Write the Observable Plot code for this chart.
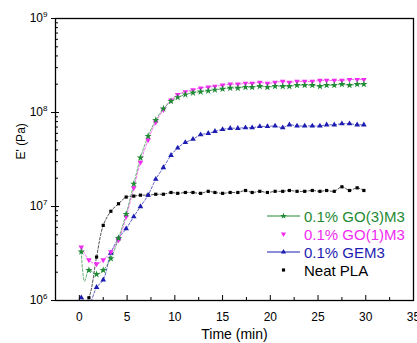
<!DOCTYPE html>
<html><head><meta charset="utf-8">
<script src="https://cdn.jsdelivr.net/npm/d3@7"></script>
<script src="https://cdn.jsdelivr.net/npm/@observablehq/plot@0.6"></script>
<style>
body{margin:0;background:#fff;}
#wrap{position:relative;width:417px;height:343px;font-family:"Liberation Sans",Arial,sans-serif;overflow:hidden;}
#legend{position:absolute;left:0;top:0;pointer-events:none;}
</style></head>
<body><div id="wrap"><div id="chart"></div><svg id="legend" width="417" height="343"></svg></div>
<script>
// time (min)
const times = [0.2,1.0,1.8,2.5,3.3,4.1,4.9,5.7,6.4,7.2,8.0,8.8,9.6,10.3,11.1,11.9,12.7,13.5,14.2,15.0,15.8,16.6,17.4,18.1,18.9,19.7,20.5,21.3,22.0,22.8,23.6,24.4,25.2,25.9,26.7,27.5,28.3,29.1,29.8];
// E' (Pa)
const go3m3 = [3.3e6,2.1e6,1.9e6,2.1e6,2.8e6,4.6e6,8.3e6,1.74e7,3.3e7,5.6e7,8.3e7,1.1e8,1.32e8,1.45e8,1.55e8,1.62e8,1.66e8,1.7e8,1.74e8,1.78e8,1.82e8,1.82e8,1.86e8,1.86e8,1.9e8,1.86e8,1.9e8,1.9e8,1.9e8,1.95e8,1.95e8,1.95e8,1.9e8,1.95e8,1.95e8,2.0e8,1.95e8,2.0e8,2.0e8];
const go3DipTime = [0.55];
const go3DipValue = [1.6e6];
const go1m3 = [3.7e6,2.7e6,2.45e6,2.7e6,3.3e6,4.4e6,7.8e6,1.58e7,2.95e7,5.1e7,7.9e7,1.07e8,1.35e8,1.55e8,1.66e8,1.74e8,1.82e8,1.86e8,1.9e8,1.95e8,2.0e8,2.0e8,2.04e8,2.04e8,2.09e8,2.04e8,2.09e8,2.14e8,2.09e8,2.14e8,2.14e8,2.14e8,2.19e8,2.19e8,2.19e8,2.19e8,2.24e8,2.24e8,2.24e8];
const gem3 = [1.07e6,9.3e5,1.38e6,1.66e6,3.2e6,4.6e6,5.8e6,7.8e6,1.0e7,1.32e7,1.95e7,2.6e7,3.5e7,4.2e7,4.8e7,5.2e7,5.8e7,6.0e7,6.3e7,6.6e7,6.8e7,6.8e7,6.9e7,6.9e7,7.1e7,7.1e7,7.2e7,6.9e7,7.4e7,7.2e7,7.2e7,7.2e7,7.2e7,7.4e7,7.4e7,7.6e7,7.6e7,7.4e7,7.4e7];
const neatPLA = [8e5,1.07e6,2.9e6,6.3e6,8.9e6,1.07e7,1.26e7,1.29e7,1.32e7,1.32e7,1.35e7,1.35e7,1.41e7,1.38e7,1.41e7,1.41e7,1.38e7,1.45e7,1.41e7,1.38e7,1.41e7,1.41e7,1.48e7,1.41e7,1.45e7,1.41e7,1.45e7,1.45e7,1.48e7,1.45e7,1.45e7,1.48e7,1.45e7,1.48e7,1.45e7,1.62e7,1.48e7,1.58e7,1.48e7];

const seriesNames = ["0.1% GO(3)M3","0.1% GO(1)M3","0.1% GEM3","Neat PLA"];
const seriesColors = ["#1e8a34","#f02cf0","#1c1cb0","#000000"];
const xTicks = [0,5,10,15,20,25,30,35];
const xMinor = [2.5,7.5,12.5,17.5,22.5,27.5,32.5];
const yTicks = [1e6,1e7,1e8,1e9];

const yMinor = [];
for (const d of [1e6,1e7,1e8]) for (let k=2;k<=9;k++) yMinor.push(d*k);

const mk = (vals) => times.map((t,i)=>({t, v: vals[i]}));
const seriesData = [
  {name: seriesNames[3], color: seriesColors[3], data: mk(neatPLA), line: mk(neatPLA), symbol: "square", rotate: 0, r: 1.8},
  {name: seriesNames[2], color: seriesColors[2], data: mk(gem3), line: mk(gem3), symbol: "triangle", rotate: 0, r: 2.1},
  {name: seriesNames[1], color: seriesColors[1], data: mk(go1m3), line: mk(go1m3), symbol: "triangle", rotate: 180, r: 2.1},
  {name: seriesNames[0], color: seriesColors[0], data: mk(go3m3),
    line: mk(go3m3).concat(go3DipTime.map((t,i)=>({t, v: go3DipValue[i]}))).sort((a,b)=>a.t-b.t),
    symbol: "star", rotate: 0, r: 2.3}
];

const W = 417, H = 343, mL = 55, mR = 4, mT = 18, mB = 43;
const fw = W - mL - mR, fh = H - mT - mB;

const marks = [];
for (const s of seriesData) {
  marks.push(Plot.line(s.line, {x: "t", y: "v", stroke: s.color, strokeWidth: 0.7, strokeDasharray: "2.5,1.8", curve: "catmull-rom", clip: true}));
}
for (const s of seriesData) {
  marks.push(Plot.dot(s.data, {x: "t", y: "v", symbol: s.symbol, r: s.r, fill: s.color, stroke: "none", rotate: s.rotate, clip: true}));
}
marks.push(
  Plot.frame({stroke: "#000", strokeWidth: 1.3}),
  Plot.tickX(xTicks, {x: d => d, insetTop: fh - 5, stroke: "#000", strokeWidth: 1}),
  Plot.tickX(xMinor, {x: d => d, insetTop: fh - 3, stroke: "#000", strokeWidth: 1}),
  Plot.tickY(yTicks, {y: d => d, insetRight: fw - 4, stroke: "#000", strokeWidth: 1}),
  Plot.tickY(yMinor, {y: d => d, insetRight: fw - 3, stroke: "#000", strokeWidth: 1}),
  Plot.axisX({ticks: xTicks, tickSize: 0, tickPadding: 12, fontSize: 12, label: null, tickFormat: d => String(d)}),
  Plot.axisY({ticks: yTicks, tickSize: 4, tickPadding: 4, fontSize: 12, label: null, tickFormat: d => "10^" + Math.round(Math.log10(d))}),
  Plot.text(["Time (min)"], {frameAnchor: "bottom", dy: 38, fontSize: 14, fill: "#000"}),
  Plot.text(["E' (Pa)"], {frameAnchor: "left", dx: -34, rotate: -90, fontSize: 12, fill: "#000"})
);

const chart = Plot.plot({
  width: W, height: H,
  marginLeft: mL, marginRight: mR, marginTop: mT, marginBottom: mB,
  style: {fontFamily: '"Liberation Sans", Arial, sans-serif', color: "#000", background: "#fff", overflow: "visible"},
  x: {domain: [-2.5, 35]},
  y: {type: "log", domain: [1e6, 1e9]},
  marks
});
document.getElementById("chart").appendChild(chart);

// superscript exponents on y tick labels
d3.select(chart).selectAll('g[aria-label="y-axis tick label"] text').each(function() {
  const txt = this.textContent;
  const parts = txt.split("^");
  if (parts.length !== 2) return;
  const el = d3.select(this);
  el.text(null);
  el.append("tspan").text(parts[0]);
  el.append("tspan").attr("dy", "-5").attr("font-size", "8").text(parts[1]);
});

// legend
const lg = d3.select("#legend");
const legendRows = [
  {name: seriesNames[0], color: seriesColors[0], line: true, symbol: d3.symbolStar, rotate: 0, size: 14},
  {name: seriesNames[1], color: seriesColors[1], line: false, symbol: d3.symbolTriangle, rotate: 180, size: 12},
  {name: seriesNames[2], color: seriesColors[2], line: true, symbol: d3.symbolTriangle, rotate: 0, size: 12},
  {name: seriesNames[3], color: seriesColors[3], line: false, symbol: d3.symbolSquare, rotate: 0, size: 10}
];
const lx = 267, ly = 216, step = 18;
legendRows.forEach((r, i) => {
  const y = ly + i * step;
  if (r.line) lg.append("line").attr("x1", lx).attr("x2", lx + 33).attr("y1", y).attr("y2", y).attr("stroke", r.color).attr("stroke-width", 1);
  lg.append("path").attr("d", d3.symbol(r.symbol, r.size)()).attr("transform", `translate(${lx + 16.5},${y}) rotate(${r.rotate})`).attr("fill", r.color);
  lg.append("text").attr("x", lx + 37).attr("y", y + 5.5).attr("fill", r.color).attr("font-size", 15)
    .attr("font-family", '"Liberation Sans", Arial, sans-serif').text(r.name);
});
</script>
</body></html>
